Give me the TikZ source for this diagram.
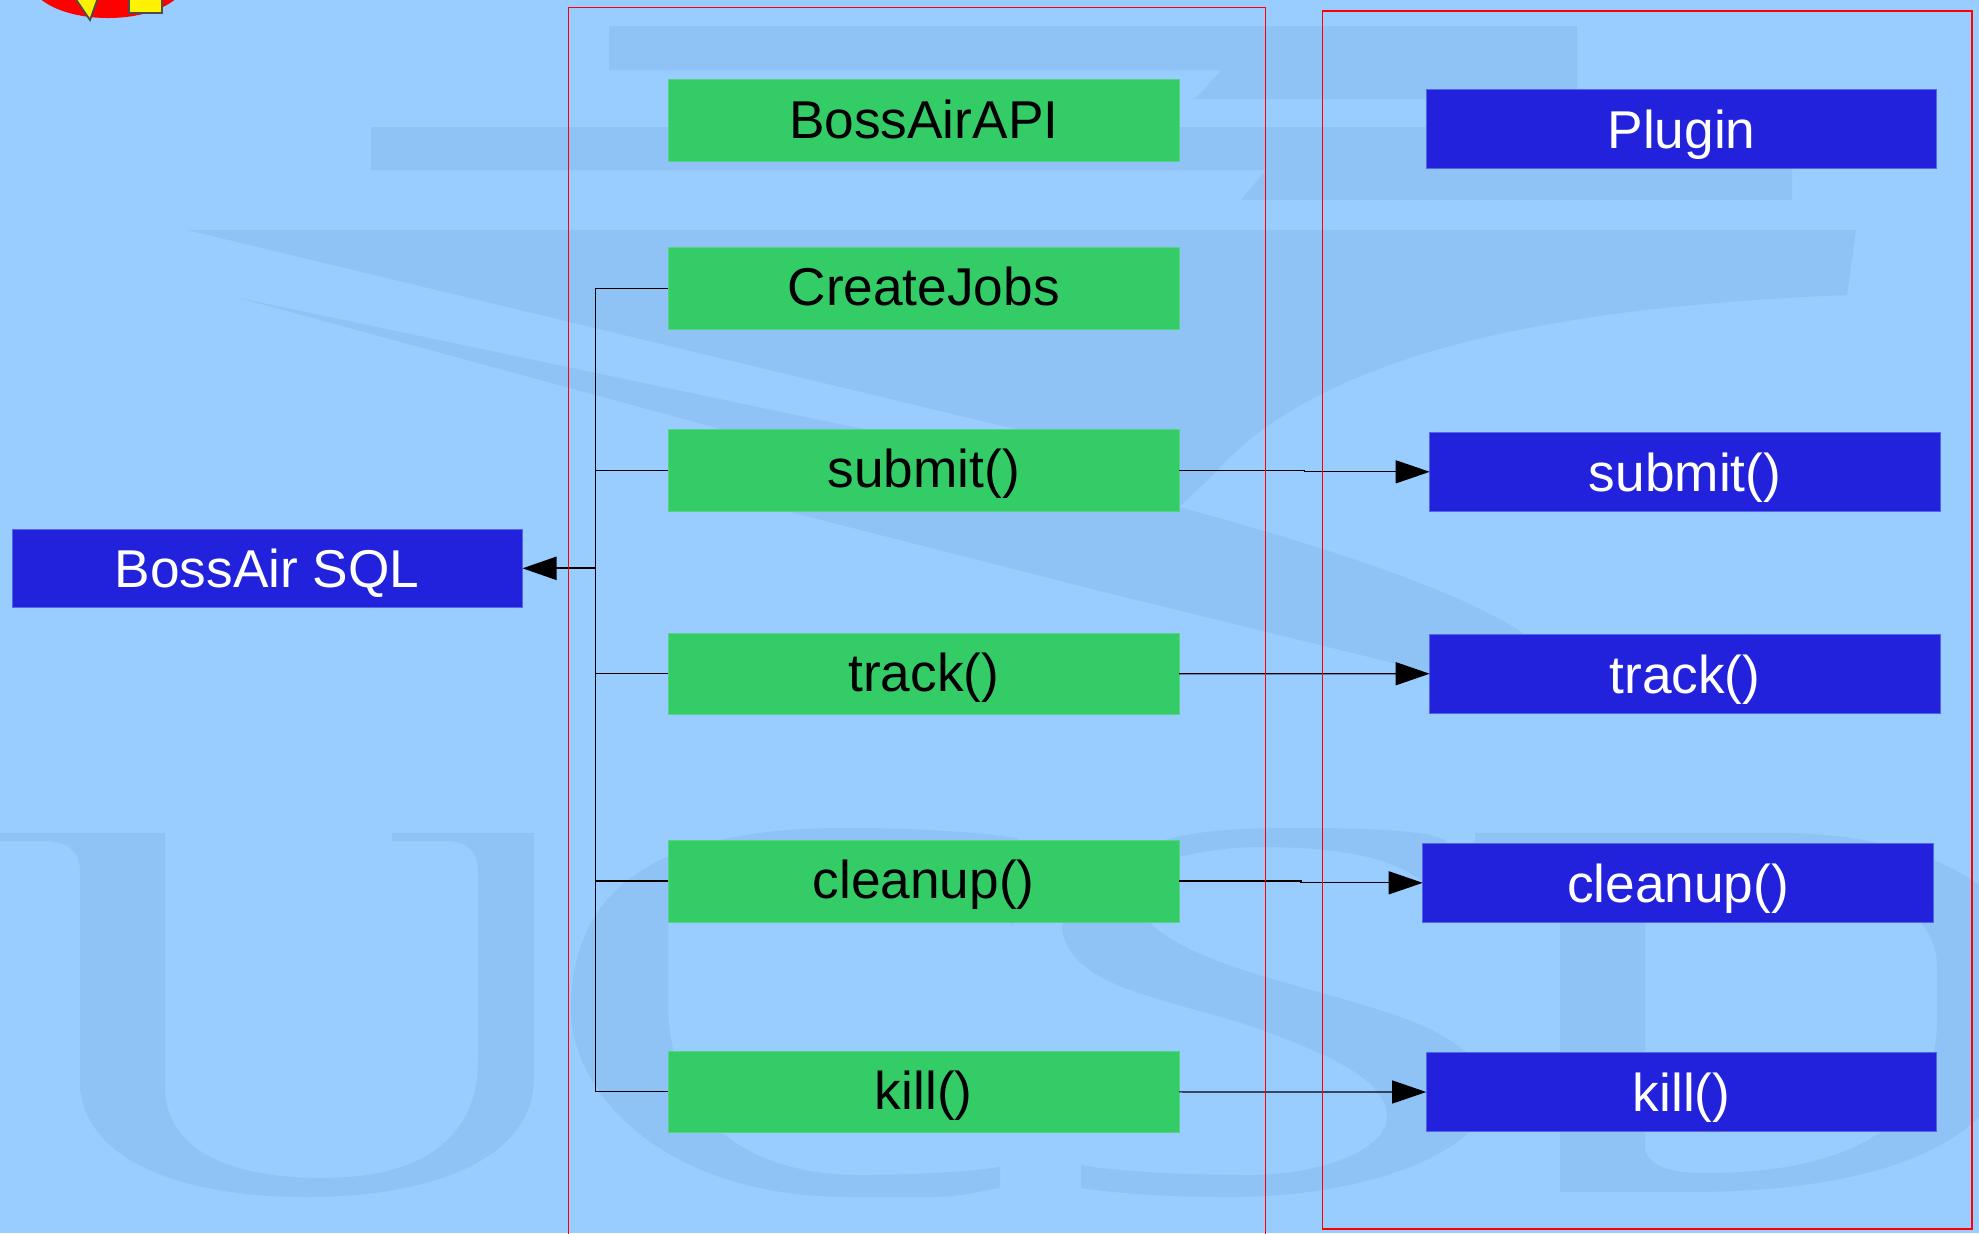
\documentclass[tikz,border=0pt]{standalone}
\usepackage{fontspec}
\setmainfont{Liberation Sans}
\usetikzlibrary{arrows.meta}
\definecolor{skyback}{HTML}{99CCFF}
\definecolor{wmark}{HTML}{90C3F5}
\definecolor{apigreen}{HTML}{33CC66}
\definecolor{rimgreen}{HTML}{55D488}
\definecolor{sqlblue}{HTML}{2222DD}
\definecolor{rimblue}{HTML}{5566EE}
\tikzset{apibox/.style={rectangle,fill=apigreen,draw=rimgreen,line width=0.2pt,outer sep=0pt,inner sep=0pt,minimum width=51.06mm,minimum height=8.17mm,text=black,font=\fontsize{15.15pt}{18pt}\selectfont,text height=3.55mm,text depth=0mm}}
\tikzset{backbox/.style={rectangle,fill=sqlblue,draw=rimblue,line width=0.2pt,outer sep=0pt,inner sep=0pt,minimum width=51.06mm,minimum height=7.87mm,text=white,font=\fontsize{15.15pt}{18pt}\selectfont,text height=3.9mm,text depth=0mm}}
\tikzset{wire/.style={black,line width=0.35pt}}
\tikzset{wirearrow/.style={wire,-{Triangle[length=3.4mm,width=2.3mm]}}}
\tikzset{frame/.style={draw=red,line width=0.35pt}}

\begin{document}
\begin{tikzpicture}[x=0.1mm,y=-0.1mm]
\path[use as bounding box,clip] (0,0) rectangle (1979,1233);
\fill[skyback] (0,0) rectangle (1979,1233);

\fill[red] (108,-20) ellipse [x radius=78,y radius=38];
\draw[fill=yellow,draw=black!70,line width=0.5pt] (73,-5) -- (90,20) -- (99,-5) -- cycle;
\draw[fill=yellow,draw=black!70,line width=0.5pt] (129,-5) rectangle (162,12.7);

\fill[wmark] (609,26) -- (1577,26) -- (1577,99) -- (1195,99) -- (1222,70) -- (609,70) -- cycle;
\fill[wmark] (371,127) -- (1792,127) -- (1792,200) -- (1241,200) -- (1266,170) -- (371,170) -- cycle;
\fill[wmark] (187,230) -- (1856,230) -- (1847,295) .. controls (1600,305) and (1330,340) .. (1213,475) -- (1179,507)
  .. controls (1300,540) and (1450,585) .. (1523,633) -- (1530,650) -- (1430,672) -- (1100,591) -- (790,512) -- (717,428) -- (239,298)
  -- (853,427) -- (1170,475) -- (1011,428) -- cycle;
\fill[wmark] (0,833) -- (165,833) -- (165,1087) .. controls (165,1150) and (230,1178) .. (322,1178) .. controls (420,1178) and (478,1140) .. (478,1060)
  -- (478,870) .. controls (478,850) and (465,841) .. (446,841) -- (392,841) -- (392,833) -- (534,833) -- (534,1077)
  .. controls (534,1160) and (430,1197) .. (307,1197) .. controls (180,1197) and (86,1160) .. (80,1087)
  -- (80,870) .. controls (80,850) and (65,841) .. (45,841) -- (0,841) -- cycle;
\fill[wmark] (844,828) .. controls (640,828) and (571,900) .. (571,1010) .. controls (571,1090) and (660,1197) .. (850,1197)
  -- (933,1197) .. controls (960,1197) and (985,1190) .. (1000,1188) -- (1000,1167)
  .. controls (960,1173) and (900,1175) .. (860,1175) .. controls (760,1175) and (668,1130) .. (668,1000)
  -- (668,900) -- (1000,900) -- (1012,926) -- (1025,900) -- (1030,860) -- (1017,838) .. controls (960,830) and (900,828) .. (844,828) -- cycle;
\fill[wmark] (1081,1165) -- (1081,1188) .. controls (1130,1195) and (1180,1197) .. (1230,1197) .. controls (1370,1197) and (1490,1150) .. (1490,1090)
  .. controls (1490,1060) and (1440,1030) .. (1400,1017) .. controls (1300,980) and (1130,960) .. (1130,880)
  .. controls (1130,870) and (1190,847) .. (1260,847) .. controls (1350,847) and (1395,860) .. (1423,882)
  -- (1440,880) -- (1445,840) -- (1432,835) .. controls (1400,830) and (1360,828) .. (1300,828) .. controls (1240,828) and (1200,830) .. (1165,840)
  .. controls (1100,860) and (1062,890) .. (1062,923) .. controls (1062,990) and (1180,1000) .. (1262,1030) .. controls (1330,1055) and (1387,1080) .. (1387,1117)
  .. controls (1387,1150) and (1320,1175) .. (1250,1175) .. controls (1190,1175) and (1130,1172) .. (1093,1167) -- cycle;
\fill[wmark,even odd rule] (1475,833) -- (1780,833) .. controls (1860,833) and (1930,850) .. (1979,885) -- (1979,1117)
  .. controls (1930,1165) and (1830,1192) .. (1687,1192) -- (1560,1192) -- (1560,900) -- (1475,860) -- cycle
  (1645,900) -- (1645,1150) .. controls (1650,1165) and (1665,1173) .. (1706,1173) .. controls (1840,1173) and (1937,1130) .. (1937,1020)
  -- (1937,967) .. controls (1937,940) and (1925,925) .. (1900,900) -- cycle;

\node[apibox] (bossairapi) at (923.7,120.3) {BossAirAPI};
\node[apibox] (createjobs) at (923.7,288.2) {CreateJobs};
\node[apibox] (submitapi) at (923.7,470.2) {submit()};
\node[apibox] (trackapi) at (923.7,673.8) {track()};
\node[apibox] (cleanupapi) at (923.7,881) {cleanup()};
\node[apibox] (killapi) at (923.7,1091.85) {kill()};

\node[backbox] (bossairsql) at (267.2,568.3) {BossAir SQL};
\node[backbox] (plugin) at (1681.5,128.8) {Plugin};
\node[backbox] (submitplugin) at (1685,471.8) {submit()};
\node[backbox] (trackplugin) at (1685,673.7) {track()};
\node[backbox] (cleanupplugin) at (1678,882.8) {cleanup()};
\node[backbox] (killplugin) at (1681.5,1092) {kill()};

\coordinate (bus) at (595.7,568.3);
\foreach \n in {createjobs,submitapi,trackapi,cleanupapi,killapi}
  \draw[wire] (\n.west) -| (bus);
\draw[wirearrow,line width=0.6pt] (bus) -- (bossairsql.east);

\coordinate (submitjog) at (1304.3,470.2);
\coordinate (cleanupjog) at (1301,881);
\draw[wirearrow] (submitapi.east) -- (submitjog) |- (submitplugin.west);
\draw[wirearrow] (trackapi.east) -- (trackplugin.west);
\draw[wirearrow] (cleanupapi.east) -- (cleanupjog) |- (cleanupplugin.west);
\draw[wirearrow] (killapi.east) -- (killplugin.west);

\draw[frame] (568.5,7.5) rectangle (1265.6,1260);
\draw[frame] (1322.5,11) rectangle (1972,1229);

\end{tikzpicture}
\end{document}
